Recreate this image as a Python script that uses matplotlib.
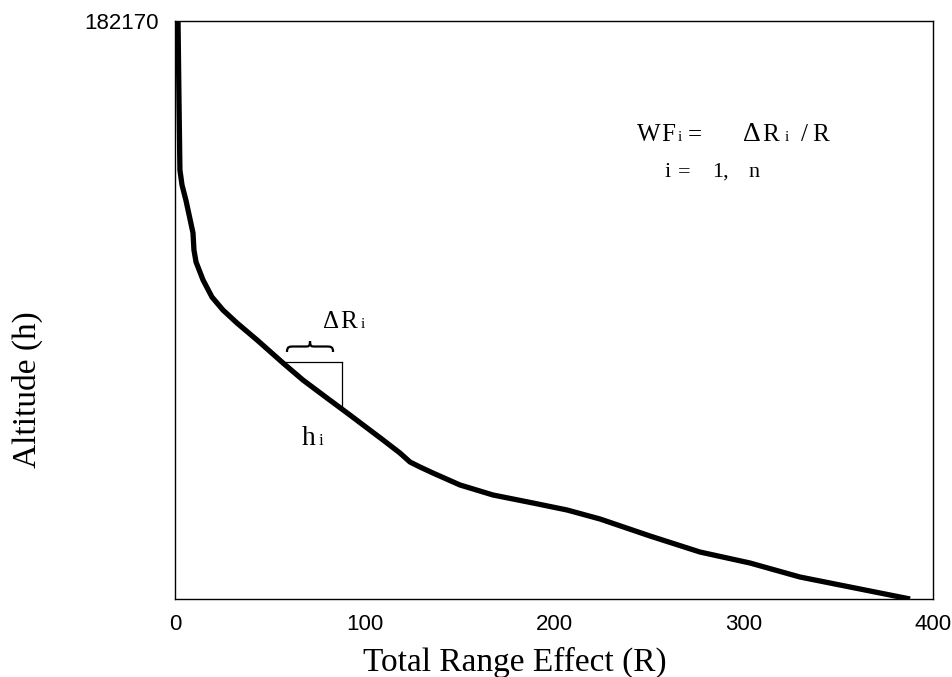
import matplotlib
matplotlib.use("Agg")
import matplotlib.pyplot as plt
from matplotlib.path import Path
from matplotlib.patches import PathPatch

# Total range effect (R) versus altitude (h)
range_effect = [1.6, 2.1, 2.6, 3.7, 5.8, 9.5, 10.0, 11.1, 14.8, 19.5,
                25.3, 32.7, 43.3, 57.0, 67.5, 80.2, 92.3, 109.8, 118.7, 124.0,
                129.3, 136.1, 150.4, 167.8, 188.9, 206.9, 224.3, 250.7, 277.0,
                303.4, 329.8, 356.2, 387.9]
altitude = [182170, 157270, 135200, 130470, 125600, 115350, 110000, 106210,
            100540, 95180, 91080, 86990, 81630, 74380, 69020, 63350, 57990,
            50110, 46015, 43180, 41600, 39710, 35930, 32780, 30260, 28050,
            25210, 19850, 14810, 11350, 6930, 3780, 0]

x_ticks = [0, 100, 200, 300, 400]
y_ticks = [182170]

# increment triangle: range step and altitude step
step_r = [58.0, 88.1]
step_h = [74700, 60510]
brace_r = [59.1, 83.4]
brace_h = [77850, 81310]

W, H = 953, 677
fig = plt.figure(figsize=(W / 100, H / 100), dpi=100)
ax = fig.add_axes([175 / W, 1 - 599 / H, (933 - 175) / W, (599 - 21) / H])

serif = "Liberation Serif"
sans = "Liberation Sans"

ax.plot(range_effect, altitude, color="black", lw=3.8,
        solid_capstyle="butt", solid_joinstyle="round")

ax.set_xlim(0, 400)
ax.set_ylim(0, 182170)
ax.set_xticks(x_ticks)
ax.set_yticks(y_ticks)
ax.set_xticklabels([str(v) for v in x_ticks], fontfamily=sans, fontsize=16)
ax.set_yticklabels([str(v) for v in y_ticks], fontfamily=sans, fontsize=16)
ax.tick_params(axis="x", length=0, pad=11)
ax.tick_params(axis="y", length=0, pad=12)
for s in ax.spines.values():
    s.set_linewidth(1.0)
    s.set_color("black")

# step triangle
ax.plot([step_r[0], step_r[1]], [step_h[0], step_h[0]], color="black", lw=0.9)
ax.plot([step_r[1], step_r[1]], [step_h[0], step_h[1]], color="black", lw=0.9)

# horizontal brace over the range step, tip pointing up
x0, x1 = brace_r
y0, y1 = brace_h
xm = (x0 + x1) / 2
ymid = (y0 + y1) / 2
w = x1 - x0
verts = [
    (x0, y0),
    (x0, ymid), (x0 + 0.05 * w, ymid), (x0 + 0.15 * w, ymid),
    (xm - 0.1 * w, ymid),
    (xm - 0.03 * w, ymid), (xm, ymid), (xm, y1),
    (xm, ymid), (xm + 0.03 * w, ymid), (xm + 0.1 * w, ymid),
    (x1 - 0.15 * w, ymid),
    (x1 - 0.05 * w, ymid), (x1, ymid), (x1, y0),
]
codes = [Path.MOVETO,
         Path.CURVE4, Path.CURVE4, Path.CURVE4,
         Path.LINETO,
         Path.CURVE4, Path.CURVE4, Path.CURVE4,
         Path.CURVE4, Path.CURVE4, Path.CURVE4,
         Path.LINETO,
         Path.CURVE4, Path.CURVE4, Path.CURVE4]
ax.add_patch(PathPatch(Path(verts, codes), facecolor="none", edgecolor="black", lw=1.6))


def put(s, px, py, size, family=serif, **kw):
    fig.text(px / W, 1 - py / H, s, fontsize=size, fontfamily=family,
             ha="left", va="baseline", **kw)


# formula
for s, px, size in [("W", 637, 18), ("F", 661, 18), ("i", 678, 11), ("=", 688, 18),
                    ("\u0394", 743, 20), ("R", 762, 18), ("i", 785, 11),
                    ("/", 801, 18), ("R", 812, 18)]:
    put(s, px, 141, size)
for s, px in [("i", 665), ("=", 678), ("1,", 712), ("n", 748)]:
    put(s, px, 177, 16)

# step labels
for s, px, size in [("\u0394", 323, 18), ("R", 340, 18), ("i", 361, 11)]:
    put(s, px, 328, size)
for s, px, size in [("h", 302, 20), ("i", 319, 12)]:
    put(s, px, 445, size)

# axis titles
fig.text(515 / W, 1 - 671 / H, "Total Range Effect (R)", fontsize=24,
         fontfamily=serif, ha="center", va="baseline")
fig.text(27 / W, 1 - 390 / H, "Altitude (h)", fontsize=24, fontfamily=serif,
         ha="center", va="center", rotation=90)

fig.savefig("out.png", dpi=100)
